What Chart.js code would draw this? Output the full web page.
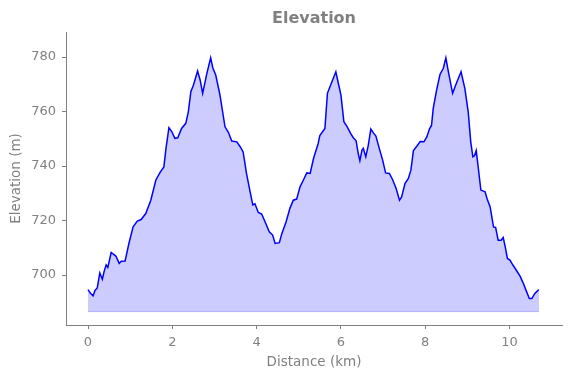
<!DOCTYPE html>
<html>
<head>
<meta charset="utf-8">
<script src="https://cdn.jsdelivr.net/npm/chart.js@4"></script>
<style>
  html, body { margin: 0; padding: 0; background: #fff; }
  #wrap { width: 571px; height: 378px; }
</style>
</head>
<body>
<div id="wrap"><canvas id="myChart" width="571" height="378"></canvas></div>
<script>
// distancia (km) y elevacion (m)
const distance = [0.00, 0.06, 0.12, 0.17, 0.22, 0.28, 0.34, 0.38, 0.43, 0.47, 0.55, 0.66, 0.74, 0.79, 0.88, 0.97,
  1.07, 1.17, 1.26, 1.37, 1.49, 1.61, 1.71, 1.80, 1.85, 1.92, 1.99, 2.06, 2.13, 2.22, 2.32, 2.38, 2.44, 2.50,
  2.60, 2.66, 2.72, 2.82, 2.91, 2.96, 3.03, 3.13, 3.25, 3.33, 3.41, 3.53, 3.61, 3.68, 3.76, 3.84, 3.91, 3.96,
  4.04, 4.12, 4.20, 4.30, 4.38, 4.44, 4.54, 4.60, 4.70, 4.79, 4.87, 4.95, 5.03, 5.11, 5.19, 5.27, 5.35, 5.46,
  5.50, 5.62, 5.68, 5.74, 5.82, 5.88, 5.94, 6.00, 6.07, 6.15, 6.23, 6.29, 6.36, 6.41, 6.45, 6.50, 6.53, 6.59,
  6.65, 6.71, 6.77, 6.83, 6.91, 6.99, 7.06, 7.15, 7.23, 7.31, 7.39, 7.44, 7.52, 7.60, 7.66, 7.72, 7.80, 7.88,
  7.97, 8.04, 8.10, 8.15, 8.19, 8.27, 8.35, 8.43, 8.49, 8.55, 8.65, 8.73, 8.85, 8.94, 9.02, 9.08, 9.13, 9.17,
  9.21, 9.26, 9.32, 9.42, 9.47, 9.54, 9.62, 9.67, 9.73, 9.80, 9.85, 9.89, 9.95, 10.01, 10.08, 10.17, 10.25,
  10.33, 10.39, 10.47, 10.53, 10.60, 10.68, 10.70];
const elevation = [694.7, 693.3, 692.4, 694.5, 695.3, 700.8, 698.5, 701.2, 703.7, 702.8, 708.3, 707.0, 704.3, 705.1, 705.2, 711.6,
  717.7, 719.8, 720.4, 722.6, 727.5, 734.9, 737.7, 739.7, 746.5, 754.1, 752.6, 750.2, 750.4, 753.8, 755.7, 759.9, 767.3, 769.7,
  774.9, 771.6, 766.7, 774.0, 779.7, 776.1, 773.4, 766.1, 754.4, 752.4, 749.2, 748.9, 747.1, 745.2, 737.3, 731.0, 725.8, 726.2,
  723.0, 722.4, 719.6, 715.9, 714.7, 711.6, 711.9, 715.3, 719.6, 724.5, 727.5, 727.9, 732.4, 734.9, 737.5, 737.3, 742.8, 748.3,
  751.2, 753.8, 766.7, 769.1, 772.2, 774.6, 770.3, 766.1, 756.3, 754.4, 752.0, 750.5, 749.3, 744.7, 742.0, 745.9, 746.5, 743.4,
  747.7, 753.6, 752.2, 751.0, 746.5, 742.2, 737.5, 737.3, 734.9, 731.8, 727.5, 728.7, 733.6, 735.5, 738.5, 745.7, 747.3, 749.0,
  748.9, 750.8, 753.6, 755.0, 761.2, 767.9, 773.6, 775.9, 779.7, 774.6, 766.7, 770.0, 774.6, 768.5, 759.9, 748.9, 743.4, 743.8,
  745.7, 739.2, 731.2, 730.6, 727.9, 725.0, 717.7, 717.5, 712.8, 712.8, 713.8, 711.0, 706.1, 705.5, 703.7, 701.6, 699.6,
  696.9, 694.5, 691.4, 691.4, 693.3, 694.5, 694.6];
const baseElevation = 686.6;   // base del relleno
const xTicks = [0, 2, 4, 6, 8, 10];
const yTicks = [700, 720, 740, 760, 780];

const gray = '#808080';

function profilePoints() {
  let pts = [];
  for (let i = 0; i < distance.length; i++) {
    pts.push({ x: distance[i], y: elevation[i] });
  }
  return pts;
}

function basePoints() {
  return [
    { x: distance[0], y: baseElevation },
    { x: distance[distance.length - 1], y: baseElevation }
  ];
}

function axisOpts(ticks, min, max, title) {
  return {
    type: 'linear',
    min: min,
    max: max,
    afterBuildTicks: (scale) => { scale.ticks = ticks.map(v => ({ value: v })); },
    grid: { display: true, drawOnChartArea: false, tickLength: 4, tickColor: gray, lineWidth: 1 },
    border: { display: true, color: gray, width: 1 },
    ticks: { color: gray, font: { family: 'DejaVu Sans', size: 13 }, padding: 6 },
    title: { display: true, text: title, color: gray, font: { family: 'DejaVu Sans', size: 13.5 }, padding: { top: 4, bottom: 7 } }
  };
}

function graph() {
  const ctx = document.getElementById('myChart').getContext('2d');
  let xAxis = axisOpts(xTicks, -0.522, 11.245, 'Distance (km)');
  xAxis.afterFit = (s) => { s.height = 53; };
  let yAxis = axisOpts(yTicks, 681.7, 789.2, 'Elevation (m)');
  yAxis.afterFit = (s) => { s.width = 66; };
  yAxis.title.padding = { top: 8, bottom: 4 };

  new Chart(ctx, {
    type: 'line',
    data: {
      datasets: [
        {
          label: 'Elevation',
          data: profilePoints(),
          borderColor: '#0000ff',
          borderWidth: 1.5,
          backgroundColor: 'rgba(0, 0, 255, 0.2)',
          fill: { value: baseElevation },
          pointRadius: 0,
          tension: 0
        },
        {
          label: 'base',
          data: basePoints(),
          borderColor: 'rgba(0, 0, 255, 0.2)',
          borderWidth: 1,
          fill: false,
          pointRadius: 0
        }
      ]
    },
    options: {
      responsive: false,
      animation: false,
      layout: { padding: { left: 0, right: 9, top: 0, bottom: 0 } },
      plugins: {
        legend: { display: false },
        tooltip: { enabled: false },
        title: {
          display: true,
          text: 'Elevation',
          fullSize: false,
          color: gray,
          font: { family: 'DejaVu Sans', size: 16, weight: 'bold' },
          padding: { top: 9, bottom: 3.8 }
        }
      },
      scales: { x: xAxis, y: yAxis }
    }
  });
}

graph();
</script>
</body>
</html>
